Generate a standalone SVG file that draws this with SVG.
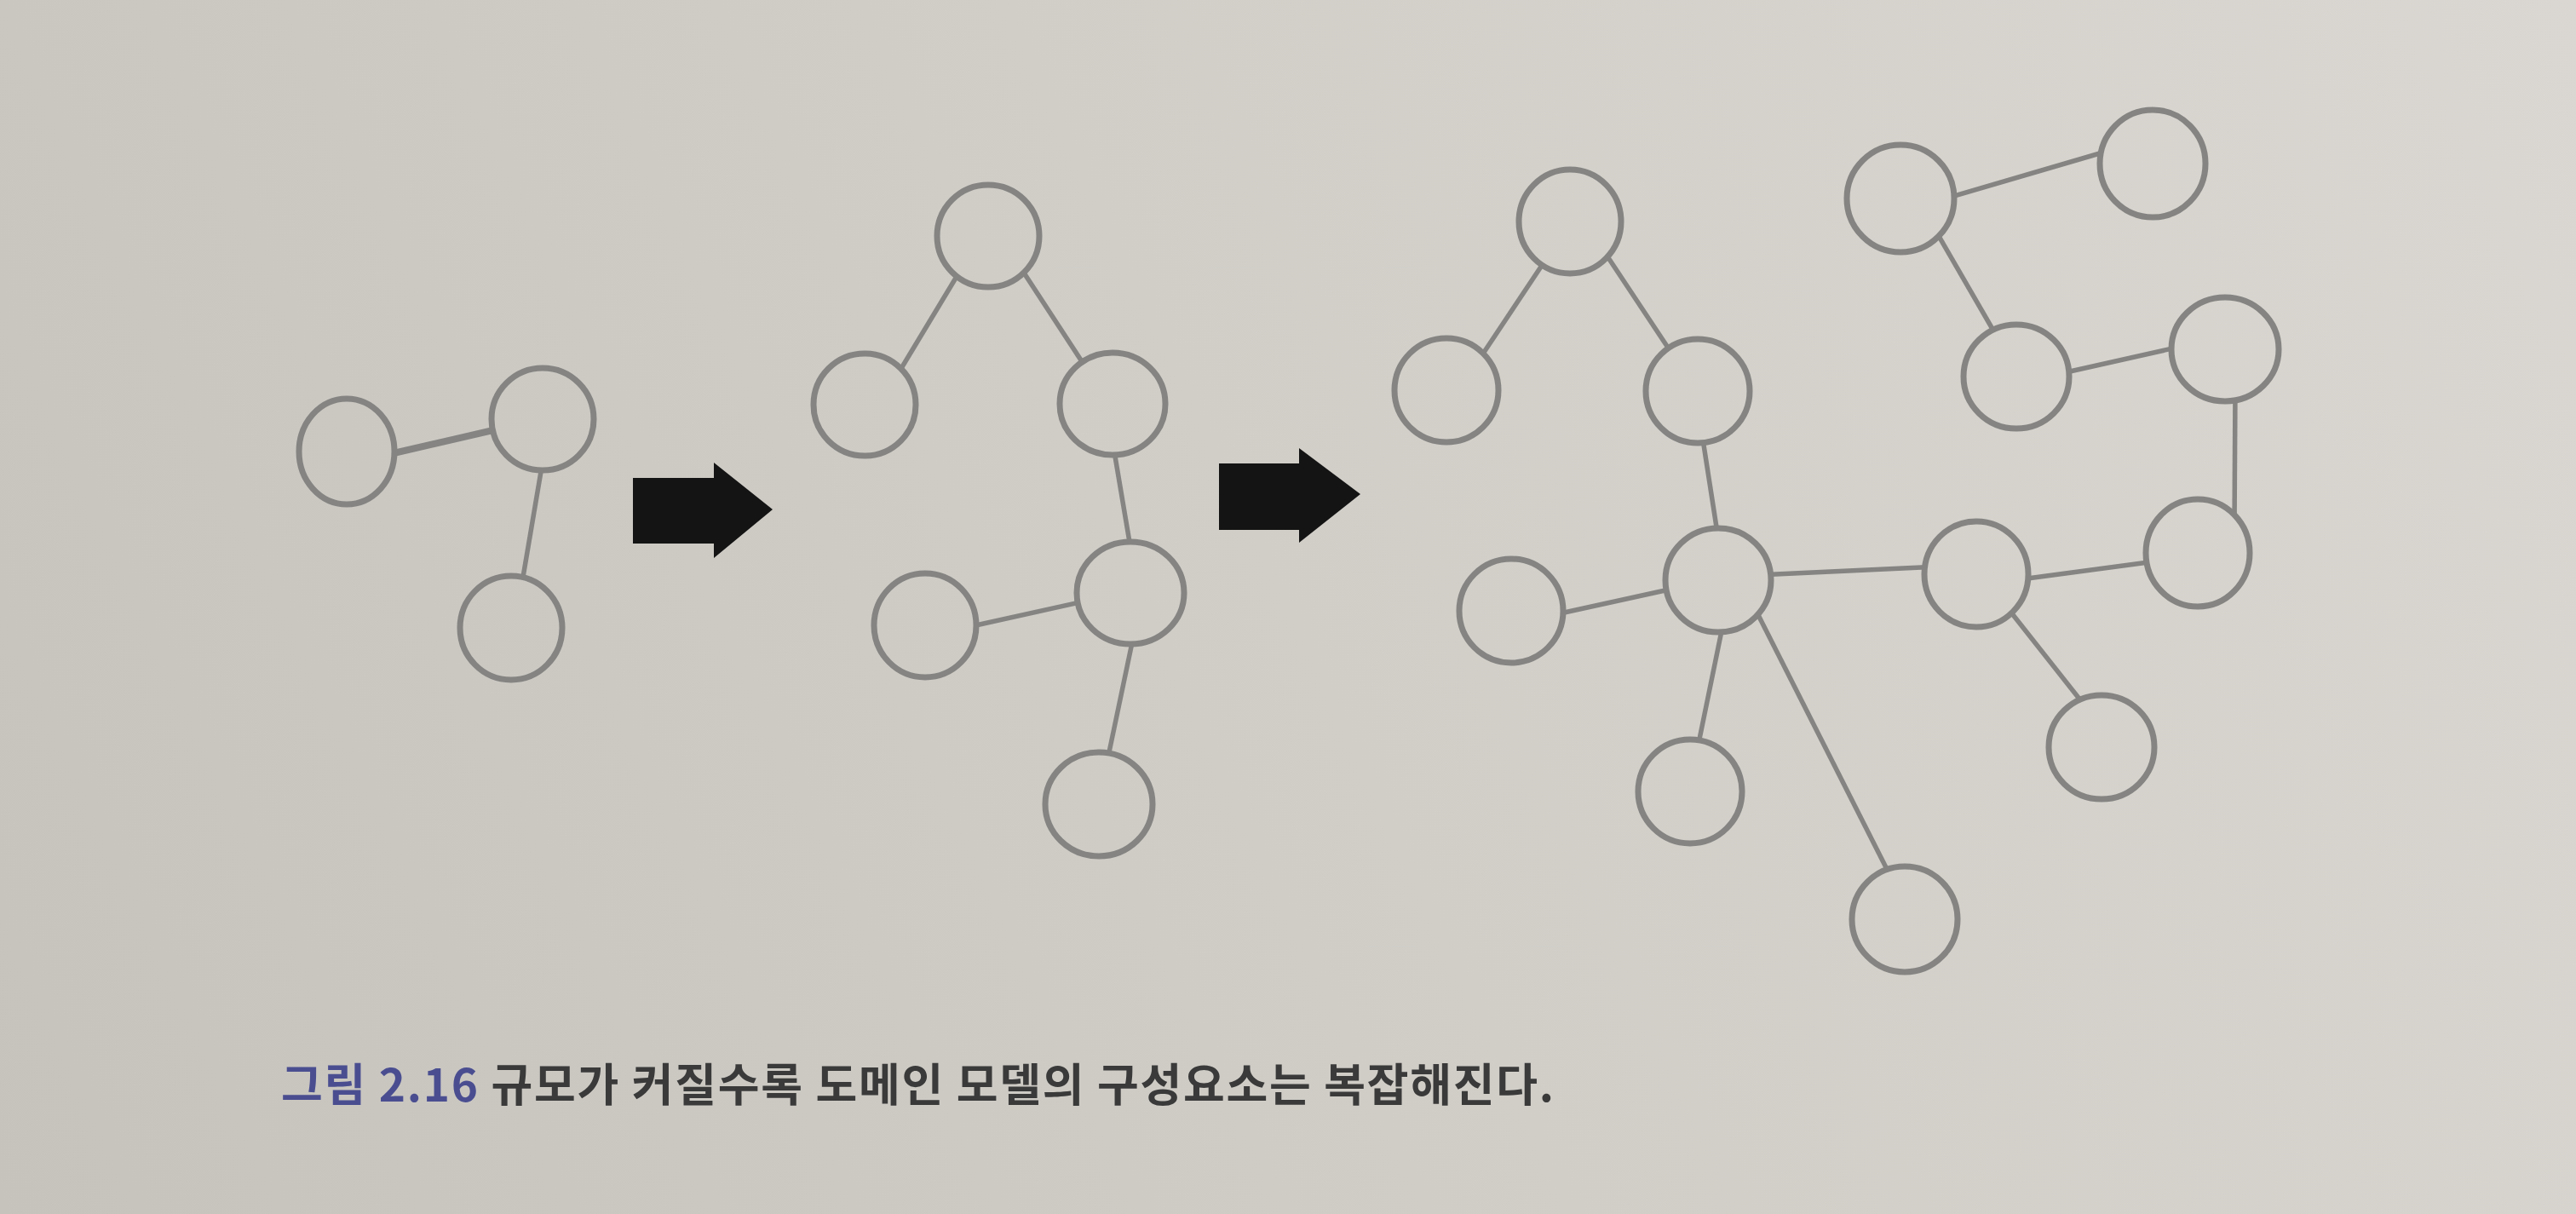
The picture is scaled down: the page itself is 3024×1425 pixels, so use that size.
<svg xmlns="http://www.w3.org/2000/svg" width="3024" height="1425" viewBox="0 0 3024 1425">
<defs>
<linearGradient id="bg" x1="0" y1="1425" x2="3024" y2="0" gradientUnits="userSpaceOnUse">
<stop offset="0" stop-color="#c6c3bd"/>
<stop offset="0.5" stop-color="#d1cec8"/>
<stop offset="1" stop-color="#dad7d2"/>
</linearGradient>
<style>
.n{fill:url(#bg);stroke:#858482;stroke-width:7}
.e{stroke:#858482;stroke-width:5.5;stroke-linecap:butt;fill:none}
.arrow{fill:#141414}
.cap{font-family:"Noto Sans CJK KR","Noto Sans",sans-serif;font-weight:700;font-size:53px}
</style>
</defs>
<rect width="3024" height="1425" fill="url(#bg)"/>

<g id="connectors">
<line class="e" x1="449" y1="535" x2="592" y2="502" style="stroke-width:8"/>
<line class="e" x1="638" y1="536" x2="611" y2="695"/>
<line class="e" x1="1130" y1="313" x2="1054" y2="439"/>
<line class="e" x1="1194" y1="308" x2="1277" y2="435"/>
<line class="e" x1="1306" y1="518" x2="1329" y2="654"/>
<line class="e" x1="1281" y1="704" x2="1132" y2="737"/>
<line class="e" x1="1332" y1="740" x2="1298" y2="902"/>
<line class="e" x1="1819" y1="298" x2="1735" y2="424"/>
<line class="e" x1="1879" y1="289" x2="1964" y2="417"/>
<line class="e" x1="1997" y1="503" x2="2018" y2="638"/>
<line class="e" x1="1973" y1="689" x2="1818" y2="723"/>
<line class="e" x1="2024" y1="726" x2="1991" y2="887"/>
<line class="e" x1="2058" y1="710" x2="2222" y2="1034"/>
<line class="e" x1="2063" y1="675" x2="2277" y2="665"/>
<line class="e" x1="2365" y1="681" x2="2537" y2="658"/>
<line class="e" x1="2357" y1="714" x2="2451" y2="833"/>
<line class="e" x1="2624" y1="456" x2="2623" y2="621"/>
<line class="e" x1="2568" y1="405" x2="2412" y2="440"/>
<line class="e" x1="2269" y1="265" x2="2347" y2="400"/>
<line class="e" x1="2277" y1="235" x2="2482" y2="175"/>
</g>

<g id="graph1">
<g id="n-a"><ellipse class="n" cx="407" cy="530" rx="56" ry="62"/></g>
<g id="n-b"><ellipse class="n" cx="637" cy="492" rx="60" ry="60"/></g>
<g id="n-c"><ellipse class="n" cx="600" cy="737" rx="60" ry="61"/></g>
</g>

<g id="arrow1"><path class="arrow" d="M743,561 H838 V543 L907,598 L838,655 V638 H743 Z"/></g>

<g id="graph2">
<g id="n-t"><ellipse class="n" cx="1160" cy="277" rx="60" ry="60"/></g>
<g id="n-l"><ellipse class="n" cx="1015" cy="475" rx="60" ry="60"/></g>
<g id="n-r"><ellipse class="n" cx="1306" cy="474" rx="62" ry="60"/></g>
<g id="n-m"><ellipse class="n" cx="1327" cy="696" rx="63" ry="60"/></g>
<g id="n-ml"><ellipse class="n" cx="1086" cy="734" rx="60" ry="61"/></g>
<g id="n-bt"><ellipse class="n" cx="1290" cy="944" rx="63" ry="61"/></g>
</g>

<g id="arrow2"><path class="arrow" d="M1431,544 H1525 V526 L1597,580 L1525,637 V622 H1431 Z"/></g>

<g id="graph3">
<g id="n-p1"><ellipse class="n" cx="1843" cy="260" rx="60" ry="61"/></g>
<g id="n-p2"><ellipse class="n" cx="1698" cy="458" rx="61" ry="61"/></g>
<g id="n-p3"><ellipse class="n" cx="1993" cy="459" rx="61" ry="61"/></g>
<g id="n-hub"><ellipse class="n" cx="2017" cy="681" rx="62" ry="61"/></g>
<g id="n-hl"><ellipse class="n" cx="1774" cy="717" rx="61" ry="61"/></g>
<g id="n-hb"><ellipse class="n" cx="1984" cy="929" rx="61" ry="61"/></g>
<g id="n-hbb"><ellipse class="n" cx="2236" cy="1079" rx="62" ry="62"/></g>
<g id="n-n1"><ellipse class="n" cx="2320" cy="674" rx="61" ry="62"/></g>
<g id="n-n1c"><ellipse class="n" cx="2467" cy="877" rx="62" ry="61"/></g>
<g id="n-n2"><ellipse class="n" cx="2580" cy="649" rx="61" ry="63"/></g>
<g id="n-n3"><ellipse class="n" cx="2612" cy="410" rx="63" ry="61"/></g>
<g id="n-n4"><ellipse class="n" cx="2367" cy="442" rx="62" ry="61"/></g>
<g id="n-n5"><ellipse class="n" cx="2231" cy="233" rx="63" ry="63"/></g>
<g id="n-n6"><ellipse class="n" cx="2527" cy="192" rx="62" ry="63"/></g>
</g>

<g id="caption">
<text class="cap" x="330" y="1293" textLength="1494" lengthAdjust="spacing"><tspan fill="#4a4e90">그림 2.16</tspan><tspan fill="#3a3a3a"> 규모가 커질수록 도메인 모델의 구성요소는 복잡해진다.</tspan></text>
</g>
</svg>
